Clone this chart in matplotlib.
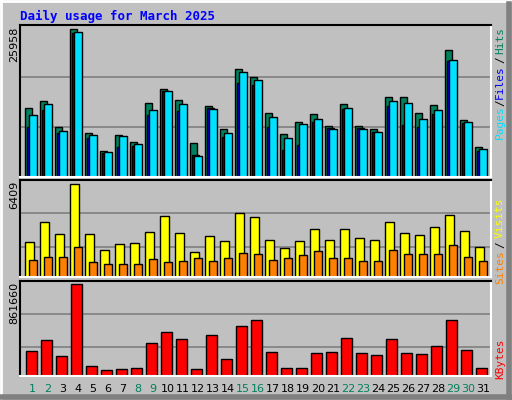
import numpy as np
import matplotlib
matplotlib.use("Agg")
import matplotlib.pyplot as plt
from matplotlib.lines import Line2D

# Daily values
days = np.arange(1, 32)
hits = [12190, 13300, 8730, 25958, 7800, 4640, 7450, 6220, 13070, 15530, 13480, 6040, 12540, 8500, 19050, 17640,
        11320, 7630, 9730, 11140, 9030, 12900, 9030, 8500, 14130, 14130, 11320, 12720, 22380, 10090, 5340]
pages = [10960, 12900, 8150, 25550, 7450, 4460, 7270, 5870, 11840, 15060, 12900, 3760, 12020, 7800, 18400, 16990,
         10610, 6920, 9380, 10260, 8500, 12190, 8500, 7980, 13420, 13070, 10260, 11840, 20630, 9730, 4990]
files = [8730, 11720, 7680, 25250, 6800, 4220, 5220, 5390, 10960, 15060, 11540, 3940, 12190, 6980, 16460, 16110,
         8730, 4690, 5570, 9610, 8680, 12020, 8680, 7980, 12540, 9210, 8730, 11140, 20450, 9560, 4640]
visits = [2440, 3760, 2990, 6409, 2990, 1880, 2300, 2370, 3130, 4180, 3060, 1740, 2850, 2510, 4390, 4110,
          2580, 2020, 2510, 3340, 2580, 3340, 2710, 2580, 3760, 3060, 2920, 3480, 4250, 3200, 2090]
sites = [1180, 1390, 1390, 2090, 1040, 900, 900, 900, 1250, 1040, 1110, 1320, 1110, 1320, 1670, 1600,
         1180, 1320, 1530, 1810, 1320, 1320, 1110, 1110, 1880, 1600, 1600, 1600, 2230, 1390, 1110]
kbytes = [238100, 341500, 191100, 861660, 97100, 59500, 68900, 78300, 313300, 416700, 350900, 68900, 388500,
          162900, 473100, 529500, 228700, 78300, 78300, 219300, 228700, 360300, 219300, 200500, 350900, 219300,
          209900, 285100, 529500, 247500, 78300]
weekend = [1, 2, 8, 9, 15, 16, 22, 23, 29, 30]

BG = "#c0c0c0"
C_HITS, C_FILES, C_PAGES = "#00805c", "#0000ff", "#00e0ff"
C_VISITS, C_SITES, C_KB = "#ffff00", "#ff8000", "#ff0000"
MONO = "DejaVu Sans Mono"

fig = plt.figure(figsize=(5.12, 4.0), dpi=100, facecolor=BG)

def panel(rect, ymax_val, top_frac, grid_fracs):
    ax = fig.add_axes(rect)
    ax.set_facecolor(BG)
    ax.set_xlim(0.647, 32.05)
    ax.set_ylim(0, ymax_val * top_frac)
    for g in grid_fracs:
        ax.axhline(ymax_val * g, color="#808080", lw=1.2, zorder=0)
    ax.set_xticks([])
    ax.set_yticks([])
    ax.spines["left"].set_color("black")
    ax.spines["top"].set_color("black")
    ax.spines["right"].set_color("white")
    ax.spines["bottom"].set_color("white")
    for s in ax.spines.values():
        s.set_linewidth(1.5)
    return ax

ax1 = panel([0.039, 0.5575, 0.92, 0.38], 25958, 151.7 / 147.4, [0.337, 0.678])
ax2 = panel([0.039, 0.3075, 0.92, 0.2425], 6409, 96 / 92, [0.326, 0.685])
ax3 = panel([0.039, 0.059, 0.92, 0.238], 861660, 94.7 / 91.7, [0.32, 0.68])

kw = dict(align="edge", edgecolor="black", linewidth=1)
ax1.bar(days, hits, width=0.47, color=C_HITS, **kw)
ax1.bar(days + 0.1, files, width=0.47, color=C_FILES, **kw)
ax1.bar(days + 0.27, pages, width=0.49, color=C_PAGES, **kw)
ax2.bar(days, visits, width=0.56, color=C_VISITS, **kw)
ax2.bar(days + 0.27, sites, width=0.49, color=C_SITES, **kw)
ax3.bar(days + 0.067, kbytes, width=0.69, color=C_KB, **kw)

# day labels
for d in days:
    ax3.text(d + 0.5, -0.13, str(d), transform=ax3.get_xaxis_transform(), ha="center", va="center",
             fontsize=8, family="DejaVu Sans", color=C_HITS if d in weekend else "black")

def fx(px):
    return px / 512

def fy(py):
    return 1 - py / 400

fig.text(fx(20), fy(16), "Daily usage for March 2025", color="#0000ff", family=MONO,
         fontweight="bold", fontsize=9, ha="left", va="center")

# max value labels
for txt, top in [("25958", 27), ("6409", 181), ("861660", 282)]:
    fig.text(fx(14), fy(top), txt, rotation=90, ha="center", va="top", fontsize=8, family="DejaVu Sans")

# right-side legends (rotated, bottom-up)
legend_parts = [
    ("Pages", C_PAGES, 122), ("/", "black", 103), ("Files", C_FILES, 82), ("/", "black", 60), ("Hits", C_HITS, 40),
    ("Sites", C_SITES, 267), ("/", "black", 245), ("Visits", C_VISITS, 218),
    ("KBytes", C_KB, 359),
]
for txt, col, yc in legend_parts:
    fig.text(fx(500), fy(yc), txt, rotation=90, ha="center", va="center", fontsize=8, family=MONO, color=col)

# outer 3D border
fig.add_artist(Line2D([0, 1], [0.998, 0.998], color="white", lw=2, transform=fig.transFigure))
fig.add_artist(Line2D([0.002, 0.002], [0, 1], color="white", lw=2, transform=fig.transFigure))
fig.add_artist(Line2D([0.994, 0.994], [0, 0.99], color="#808080", lw=4, transform=fig.transFigure))
fig.add_artist(Line2D([0, 1], [0.008, 0.008], color="#808080", lw=4, transform=fig.transFigure))

fig.savefig("out.png", dpi=100, facecolor=BG)
